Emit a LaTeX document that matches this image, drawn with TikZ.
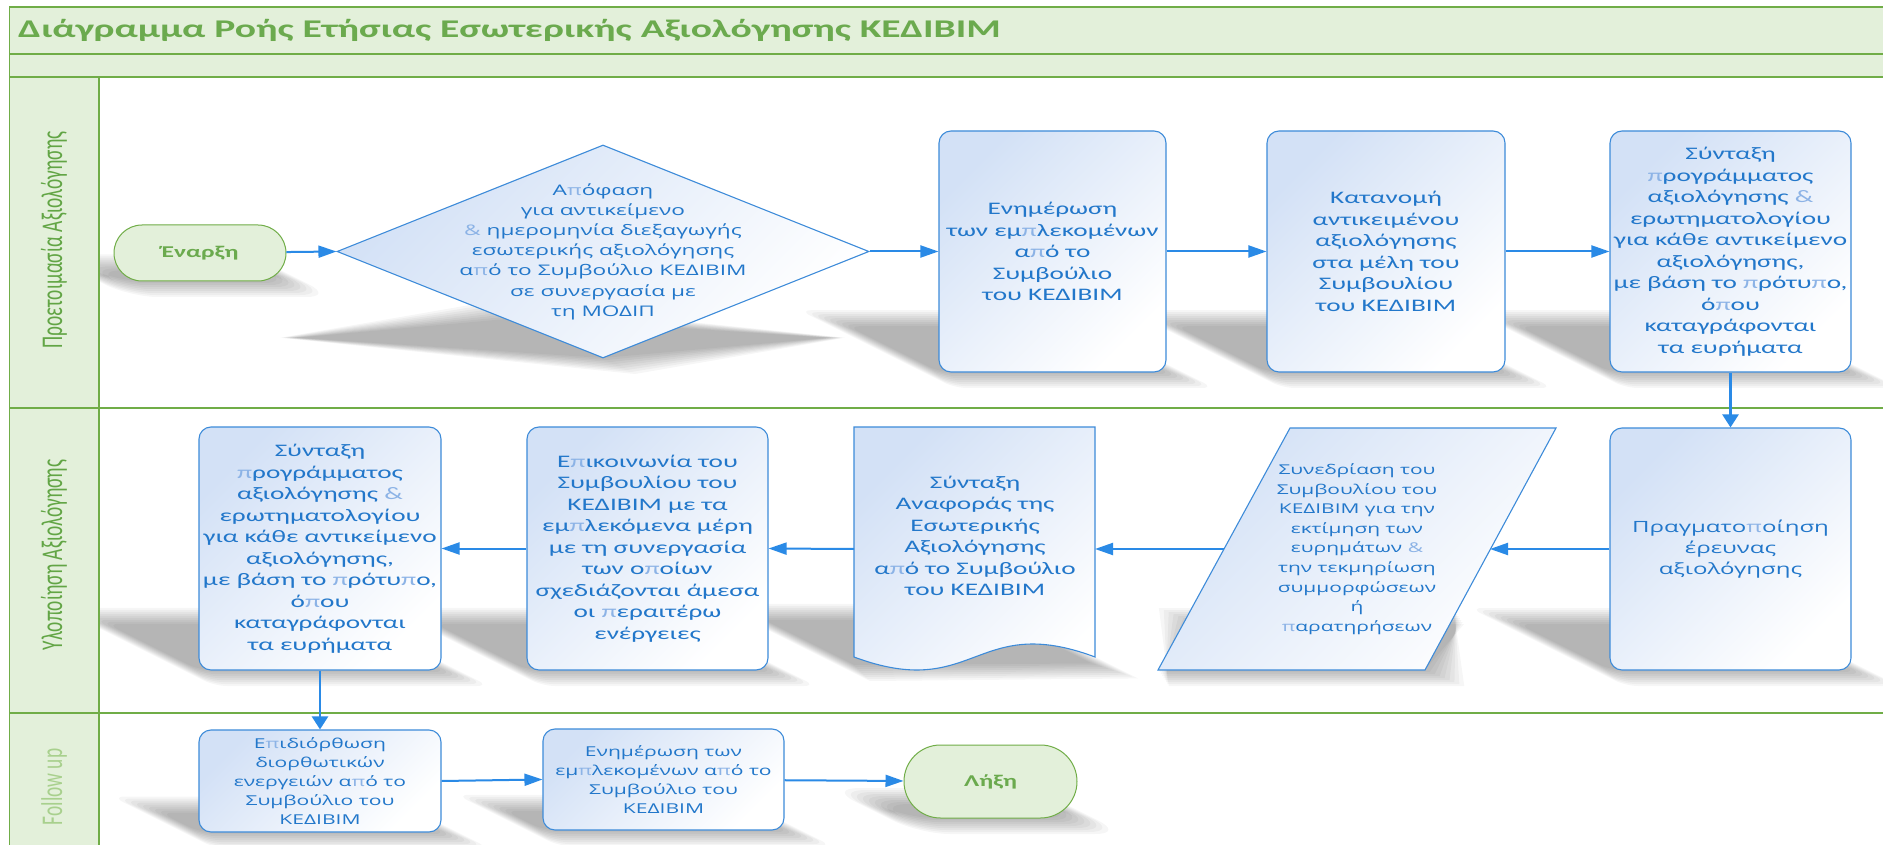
\documentclass[tikz,border=0pt]{standalone}
\usepackage{fontspec}
\usepackage{graphicx}
\usetikzlibrary{arrows.meta,shapes.geometric,shapes.misc}
\newfontfamily\fcal[FakeStretch=1.55]{Carlito}
\newfontfamily\fseg[FakeStretch=1.55]{Open Sans}
\newfontfamily\flane{Carlito}
\definecolor{gline}{HTML}{70AD47}
\definecolor{gfill}{HTML}{E3F0DA}
\definecolor{gtitle}{HTML}{6BAA4E}
\definecolor{glane}{HTML}{62A545}
\definecolor{gfollow}{HTML}{A8D08D}
\definecolor{boxb}{HTML}{3D8BD9}
\definecolor{txtb}{HTML}{2277CA}
\definecolor{fillb}{HTML}{D3E1F6}
\definecolor{arrb}{HTML}{2A8AE6}
\definecolor{lightb}{HTML}{8CB3E6}
\newcommand\pp{{\color{lightb}π}}
\newcommand\am{{\color{lightb}\&}}
% soft perspective shadow: #1 cx, #2 cy, #3 width, #4 height, #5 path
\newcommand\shad[5]{%
  \pgfmathsetmacro\ybot{#2+#4/2}%
  \begin{scope}[cm={1,0,-0.38,0.19,({-0.38*\ybot*1pt},{-0.81*\ybot*1pt})}]
    \foreach \e in {0,2,...,16}{%
      \begin{scope}[shift={(#1,#2)},xscale={1+2*\e/#3},yscale={1+2*\e/(0.19*#4)},shift={(-#1,-#2)}]
        \path[fill=black,fill opacity=0.034] #5;
      \end{scope}}
  \end{scope}}
\begin{document}
\begin{tikzpicture}[x=1pt,y=-1pt,
  grad/.style={top color=fillb,middle color=white!45!fillb,bottom color=white,shading angle=45},
  box/.style={draw=boxb,line width=1.1pt,rounded corners=12pt,grad,
    text=txtb,align=center,inner sep=0pt,font=\fcal\fontsize{17.6}{21.5}\selectfont},
  segbox/.style={box,font=\fseg\fontsize{15.5}{21}\selectfont},
  lowbox/.style={box,font=\fseg\fontsize{13.6}{19}\selectfont},
  shapefill/.style={draw=boxb,line width=1.1pt,grad},
  shapetext/.style={text=txtb,align=center,inner sep=0pt},
  term/.style={rounded rectangle,draw=gline,fill=gfill,line width=1pt,text=gtitle,inner sep=0pt,
    font=\fcal\bfseries\fontsize{16.5}{20}\selectfont},
  flow/.style={draw=arrb,line width=2pt,-{Triangle[length=18pt,width=12pt]}},
  vflow/.style={draw=arrb,line width=2.4pt,-{Triangle[length=13pt,width=16pt]}},
  lanelabel/.style={rotate=90,inner sep=0pt,font=\flane\fontsize{19.4}{22}\selectfont}]
\useasboundingbox (0,0) rectangle (1883,845);
\fill[white] (0,0) rectangle (1883,845);
% bands and lane column
\fill[gfill] (9.5,7) rectangle (1890,77);
\fill[gfill] (9.5,77) rectangle (99,850);
% shadows
\begin{scope}
\clip (99,77) rectangle (1883,845);
\shad{200}{253}{172}{56}{[rounded corners=28pt] (114,225) rectangle (286,281)}
\shad{603}{251.5}{532}{213}{(337,251.5) -- (603,145) -- (869,251.5) -- (603,358) -- cycle}
\shad{1052.5}{251.5}{227}{241}{[rounded corners=12pt] (939,131) rectangle (1166,372)}
\shad{1386}{251.5}{238}{241}{[rounded corners=12pt] (1267,131) rectangle (1505,372)}
\shad{1730.5}{251.5}{241}{241}{[rounded corners=12pt] (1610,131) rectangle (1851,372)}
\shad{1730.5}{549}{241}{242}{[rounded corners=12pt] (1610,428) rectangle (1851,670)}
\shad{1357}{549}{300}{242}{(1290,428) -- (1556,428) -- (1425,670) -- (1158,670) -- cycle}
\shad{974.5}{546}{241}{238}{(854,427) -- (1095,427) -- (1095,657) -- (854,665) -- cycle}
\shad{647.5}{548.5}{241}{243}{[rounded corners=12pt] (527,427) rectangle (768,670)}
\shad{320}{548.5}{242}{243}{[rounded corners=12pt] (199,427) rectangle (441,670)}
\shad{320}{781}{242}{102}{[rounded corners=12pt] (199,730) rectangle (441,832)}
\shad{663.5}{779.5}{241}{101}{[rounded corners=12pt] (543,729) rectangle (784,830)}
\shad{990.5}{781.5}{173}{73}{[rounded corners=30pt] (904,745) rectangle (1077,818)}
\end{scope}
% frame lines
\draw[gline,line width=1.3pt] (1890,7) -- (9.5,7) -- (9.5,850);
\draw[gline,line width=1.3pt] (9.5,54) -- (1890,54);
\draw[gline,line width=1.3pt] (9.5,77) -- (1890,77);
\draw[gline,line width=1.3pt] (99,77) -- (99,850);
\draw[gline,line width=1.3pt] (9.5,408) -- (1890,408);
\draw[gline,line width=1.3pt] (9.5,713) -- (1890,713);
% title and lane labels
\node[anchor=west,inner sep=0pt,text=gtitle,font=\fcal\bfseries\fontsize{25.5}{30}\selectfont] (title) at (18,30)
  {Διάγραμμα Ροής Ετήσιας Εσωτερικής Αξιολόγησης ΚΕΔΙΒΙΜ};
\node[lanelabel,text=glane] (lane1) at (54,240) {\scalebox{1}[1.55]{Προετοιμασία Αξιολόγησης}};
\node[lanelabel,text=glane] (lane2) at (54,555) {\scalebox{1}[1.55]{Υλοποίηση Αξιολόγησης}};
\node[lanelabel,text=gfollow] (lane3) at (54,787) {\scalebox{1}[1.55]{Follow up}};
% lane 1
\node[term,minimum width=172pt,minimum height=56pt] (start) at (200,253) {Έναρξη};
\node[diamond,shapefill,minimum width=532pt,minimum height=213pt,inner sep=0pt] (dia) at (603,251.5) {};
\node[shapetext,font=\fseg\fontsize{14.6}{20.2}\selectfont] (diat) at (dia.center)
  {Α\pp{}όφαση\\για αντικείμενο\\\am{} ημερομηνία διεξαγωγής\\εσωτερικής αξιολόγησης\\α\pp{}ό το Συμβούλιο ΚΕΔΙΒΙΜ\\σε συνεργασία με\\τη ΜΟΔΙΠ};
\node[box,minimum width=227pt,minimum height=241pt] (b1) at (1052.5,251.5)
  {Ενημέρωση\\των εμ\pp{}λεκομένων\\α\pp{}ό το\\Συμβούλιο\\του ΚΕΔΙΒΙΜ};
\node[box,minimum width=238pt,minimum height=241pt] (b2) at (1386,251.5)
  {Κατανομή\\αντικειμένου\\αξιολόγησης\\στα μέλη του\\Συμβουλίου\\του ΚΕΔΙΒΙΜ};
\node[box,minimum width=241pt,minimum height=241pt] (b3) at (1730.5,251.5)
  {Σύνταξη\\\pp{}ρογράμματος\\αξιολόγησης \am\\ερωτηματολογίου\\για κάθε αντικείμενο\\αξιολόγησης,\\με βάση το \pp{}ρότυ\pp{}ο,\\ό\pp{}ου\\καταγράφονται\\τα ευρήματα};
% lane 2
\node[segbox,minimum width=241pt,minimum height=242pt] (b4) at (1730.5,549)
  {Πραγματο\pp{}οίηση\\έρευνας\\αξιολόγησης};
\path[shapefill] (1290,428) -- (1556,428) -- (1425,670) -- (1158,670) -- cycle;
\coordinate (parR) at (1490,549);
\coordinate (parL) at (1224,549);
\node[shapetext,font=\fseg\fontsize{13.5}{19.6}\selectfont] (par) at (1357,549)
  {Συνεδρίαση του\\Συμβουλίου του\\ΚΕΔΙΒΙΜ για την\\εκτίμηση των\\ευρημάτων \am\\την τεκμηρίωση\\συμμορφώσεων\\ή\\\pp{}αρατηρήσεων};
\path[shapefill] (854,427) -- (1095,427) -- (1095,657) .. controls (975,612) and (975,702) .. (854,657) -- cycle;
\coordinate (docR) at (1095,549);
\coordinate (docL) at (854,549);
\node[shapetext,font=\fcal\fontsize{17.6}{21.5}\selectfont] (doc) at (975,536)
  {Σύνταξη\\Αναφοράς της\\Εσωτερικής\\Αξιολόγησης\\α\pp{}ό το Συμβούλιο\\του ΚΕΔΙΒΙΜ};
\node[box,minimum width=241pt,minimum height=243pt] (b5) at (647.5,548.5)
  {Ε\pp{}ικοινωνία του\\Συμβουλίου του\\ΚΕΔΙΒΙΜ με τα\\εμ\pp{}λεκόμενα μέρη\\με τη συνεργασία\\των ο\pp{}οίων\\σχεδιάζονται άμεσα\\οι \pp{}εραιτέρω\\ενέργειες};
\node[box,minimum width=242pt,minimum height=243pt] (b6) at (320,548.5)
  {Σύνταξη\\\pp{}ρογράμματος\\αξιολόγησης \am\\ερωτηματολογίου\\για κάθε αντικείμενο\\αξιολόγησης,\\με βάση το \pp{}ρότυ\pp{}ο,\\ό\pp{}ου\\καταγράφονται\\τα ευρήματα};
% lane 3
\node[lowbox,minimum width=242pt,minimum height=102pt] (b7) at (320,781)
  {Ε\pp{}ιδιόρθωση\\διορθωτικών\\ενεργειών α\pp{}ό το\\Συμβούλιο του\\ΚΕΔΙΒΙΜ};
\node[lowbox,minimum width=241pt,minimum height=101pt] (b8) at (663.5,779.5)
  {Ενημέρωση των\\εμ\pp{}λεκομένων α\pp{}ό το\\Συμβούλιο του\\ΚΕΔΙΒΙΜ};
\node[term,minimum width=173pt,minimum height=73pt] (end) at (990.5,781.5) {Λήξη};
% connectors
\draw[flow] (start) -- (dia.west);
\draw[flow] (dia.east) -- (b1.west);
\draw[flow] (b1) -- (b2);
\draw[flow] (b2) -- (b3);
\draw[vflow] (b3) -- (b4);
\draw[flow] (b4.west) -- (parR);
\draw[flow] (parL) -- (docR);
\draw[flow] (docL) -- (b5.east);
\draw[flow] (b5) -- (b6);
\draw[vflow] (b6) -- (b7);
\draw[flow] (b7.east) -- (b8.west);
\draw[flow] (b8) -- (end);
\end{tikzpicture}
\end{document}
